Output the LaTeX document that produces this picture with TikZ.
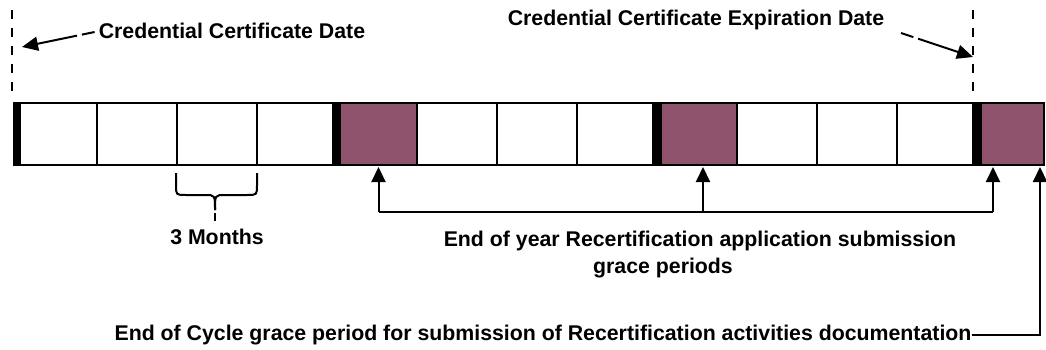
\documentclass[tikz,border=0pt]{standalone}
\usepackage{fontspec}
\setmainfont{Liberation Sans}
\usetikzlibrary{arrows.meta,calc}
\definecolor{plum}{RGB}{143,83,110}
\begin{document}
\begin{tikzpicture}[x=1pt,y=-1pt,
  cell/.style={draw,line width=2.3pt,minimum width=#1pt,minimum height=62pt,inner sep=0pt,outer sep=0pt,anchor=north west},
  gcell/.style={cell=#1,fill=plum},
  bar/.style={fill=black},
  lbl/.style={font=\fontsize{21.3}{25}\selectfont\bfseries,inner sep=0pt},
  guide/.style={line width=2.8pt,dash pattern=on 9pt off 9pt},
  callout/.style={line width=2pt,dash pattern=on 13pt off 5pt on 300pt off 1pt,-{Triangle[length=16pt,width=14pt]}},
  conn/.style={line width=2pt},
  up/.style={line width=2pt,-{Triangle[length=15pt,width=14pt]}}]
\useasboundingbox (0,0) rectangle (1046,350);
% cells
\node[cell=77] (c1) at (20,103) {};
\node[cell=80] (c2) at (97,103) {};
\node[cell=80] (c3) at (177,103) {};
\node[cell=76] (c4) at (257,103) {};
\node[gcell=77] (p1) at (340,103) {};
\node[cell=80] (c5) at (417,103) {};
\node[cell=80] (c6) at (497,103) {};
\node[cell=76] (c7) at (577,103) {};
\node[gcell=76] (p2) at (661,103) {};
\node[cell=80] (c8) at (737,103) {};
\node[cell=80] (c9) at (817,103) {};
\node[cell=76] (c10) at (897,103) {};
\node[gcell=63] (p3) at (981,103) {};
% thick separators
\fill[bar] (13,102) rectangle (20,166);
\fill[bar] (333,102) rectangle (340,166);
\fill[bar] (653,102) rectangle (661,166);
\fill[bar] (973,102) rectangle (981,166);
% dashed guides
\draw[guide] (12,10) -- (12,95);
\draw[guide] (973,10) -- (973,96);
% top labels
\node[lbl] (t1) at (232,31) {Credential Certificate Date};
\node[lbl] (t2) at (696,20) {Credential Certificate Expiration Date};
\coordinate (a1) at (22,47);
\coordinate (s2) at (901,33);
\coordinate (a2) at (973,57);
\draw[callout] ($(t1.west)+(-4,1)$) -- (a1);
\draw[callout] (s2) -- (a2);
% brace
\draw[line width=2pt] (176,173) -- (176,185) .. controls (176,195) .. (186,195) -- (205,195) .. controls (215,195) .. (215,210);
\draw[line width=2pt] (257,173) -- (257,185) .. controls (257,195) .. (247,195) -- (225,195) .. controls (215,195) .. (215,210);
\draw[line width=2pt] (215,213) -- (215,221);
\node[lbl] (m3) at (217,237) {3 Months};
% grace period arrows
\coordinate (g1) at ($(p1.south)+(0,2)$);
\coordinate (g2) at ($(p2.south)+(4,2)$);
\coordinate (g3) at ($(p3.south west)+(12,2)$);
\coordinate (g4) at ($(p3.south west)+(59,2)$);
\coordinate (h1) at (g1 |- 0,212);
\coordinate (h3) at (g3 |- 0,212);
\draw[conn] (h1) -- (h3);
\draw[up] (h1) -- (g1);
\draw[up] (g2 |- h1) -- (g2);
\draw[up] (h3) -- (g3);
\node[lbl] (y1) at (700,241) {End of year Recertification application submission};
\node[lbl] (y2) at (663,268) {grace periods};
% end of cycle
\node[lbl] (e1) at (543,335) {End of Cycle grace period for submission of Recertification activities documentation};
\coordinate (k1) at (g4 |- e1.east);
\draw[up] (e1.east) -- (k1) -- (g4);
\end{tikzpicture}
\end{document}
